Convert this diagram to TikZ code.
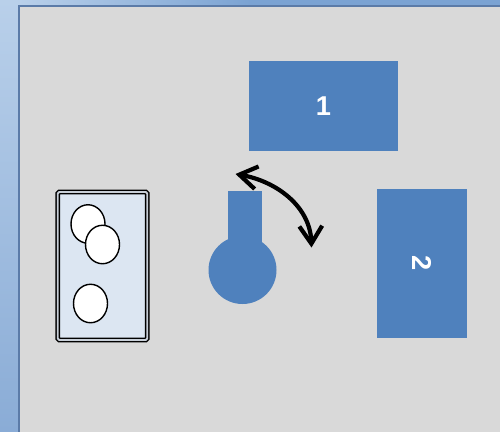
\documentclass[tikz,border=0pt]{standalone}
\usepackage{fontspec}
\setmainfont{Liberation Sans}
\usetikzlibrary{shapes.geometric, arrows.meta}
\definecolor{panelgray}{HTML}{D9D9D9}
\definecolor{panelblue}{HTML}{4F81BD}
\definecolor{trayblue}{HTML}{DCE6F2}
\definecolor{traygap}{HTML}{C8CFD8}
\definecolor{windowlight}{HTML}{B9D0EA}
\definecolor{windowdark}{HTML}{8AACD6}
\definecolor{windowtop}{HTML}{7BA3D3}
\definecolor{edgeblue}{HTML}{5B7BA8}
\tikzset{
  block/.style = {fill=panelblue, minimum width=2.98cm, minimum height=1.8cm, text=white, font=\bfseries\fontsize{15.5}{18}\selectfont, inner sep=0pt},
  egg/.style = {draw, thick, fill=white, ellipse, minimum width=0.68cm, minimum height=0.77cm, inner sep=0pt}
}

\begin{document}
\begin{tikzpicture}
      \useasboundingbox (0,0) rectangle (10,8.62);

      % window behind the panel
      \shade[top color=windowlight, bottom color=windowdark] (0,0) rectangle (0.38,8.62);
      \shade[left color=windowlight, right color=windowtop] (0.38,8.5) rectangle (5,8.62);
      \fill[windowtop] (5,8.5) rectangle (10,8.62);
      \fill[panelgray, draw=edgeblue, line width=0.8pt] (10.2,-0.2) -- (0.38,-0.2) -- (0.38,8.5) -- (10.2,8.5) -- cycle;

      % blocks
      \node[block] (one) at (6.47,6.5) {1};
      \node[block, rotate=-90] (two) at (8.44,3.35) {2};

      % tray with eggs
      \node[draw, line width=0.8pt, double=traygap, double distance=1.1pt, rounded corners=0.8pt, fill=trayblue, minimum width=1.79cm, minimum height=2.96cm] (tray) at (2.05,3.3) {};
      \node[egg] (egga) at (1.76,4.14) {};
      \node[egg] (eggb) at (2.05,3.73) {};
      \node[egg] (eggc) at (1.81,2.55) {};

      % flask
      \node[circle, fill=panelblue, minimum size=1.36cm, inner sep=0pt] (bulb) at (4.85,3.22) {};
      \node[fill=panelblue, minimum width=0.68cm, minimum height=1.1cm, inner sep=0pt] (neck) at (4.9,4.25) {};

      % swing arrow
      \coordinate (swingstart) at (4.71,5.14);
      \coordinate (swingend) at (6.23,3.67);
      \draw[{Straight Barb[length=10pt,width=13pt]}-{Straight Barb[length=10pt,width=13pt]}, line width=2.4pt, line cap=round] (swingstart) to [out=-10, in=92] (swingend);
\end{tikzpicture}
\end{document}
